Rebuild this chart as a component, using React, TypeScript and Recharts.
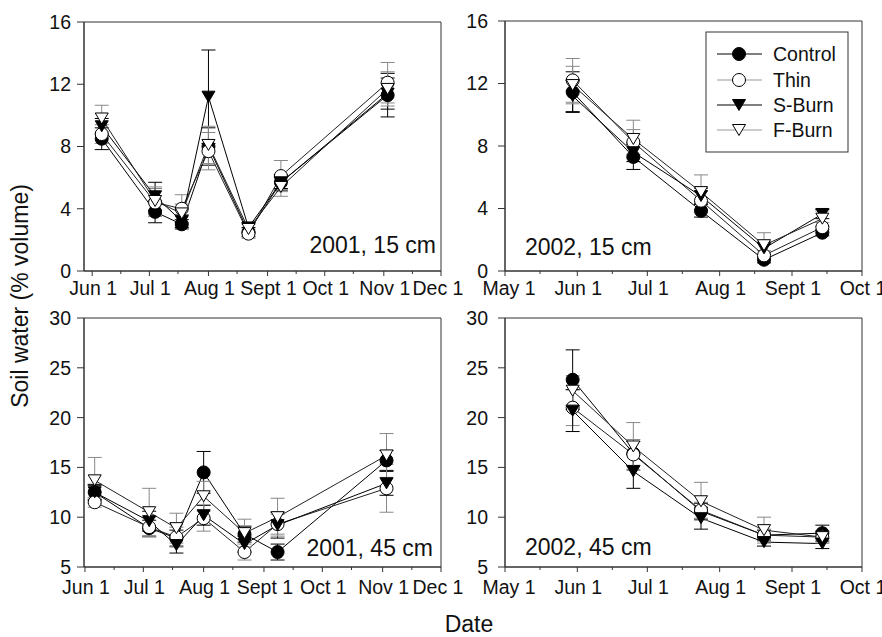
import { LineChart, Line, XAxis, YAxis, ErrorBar, ReferenceArea } from "recharts";

const FONT = "'Liberation Sans', Arial, Helvetica, sans-serif";

// day-of-year of each sampling date
const days2001 = [157, 185, 199, 213, 234, 251, 307];
const days2002 = [150, 176, 205, 232, 257];

// x-axis ticks (day of year) and their labels
const ticks2001 = [152, 182, 213, 244, 274, 305, 335];
const tickLabels2001 = ["Jun 1", "Jul 1", "Aug 1", "Sept 1", "Oct 1", "Nov 1", "Dec 1"];
const minor2001 = [167, 197, 228, 259, 289, 320];
const ticks2002 = [121, 152, 182, 213, 244, 274];
const tickLabels2002 = ["May 1", "Jun 1", "Jul 1", "Aug 1", "Sept 1", "Oct 1"];
const minor2002 = [136, 167, 197, 228, 259];

const yTicks15 = [0, 4, 8, 12, 16];
const yTicks45 = [5, 10, 15, 20, 25, 30];

// 2001, 15 cm
const control01_15 = [8.5, 3.8, 3.0, 8.0, 2.5, 5.7, 11.3];
const thin01_15 = [8.8, 4.4, 4.0, 7.7, 2.4, 6.1, 12.1];
const sburn01_15 = [9.3, 4.8, 3.2, 11.2, 2.8, 5.7, 11.4];
const fburn01_15 = [9.8, 4.5, 3.7, 8.1, 2.7, 5.4, 11.7];
const controlErr01_15 = [0.7, 0.7, 0.3, 1.2, 0.3, 0.4, 1.4];
const thinErr01_15 = [0.6, 0.9, 0.9, 1.2, 0.3, 1.0, 1.3];
const sburnErr01_15 = [0.5, 0.9, 0.4, 3.0, 0.3, 0.5, 1.0];
const fburnErr01_15 = [0.85, 0.9, 0.6, 1.2, 0.3, 0.6, 1.1];

// 2002, 15 cm
const control02_15 = [11.45, 7.3, 3.85, 0.72, 2.45];
const thin02_15 = [12.2, 8.25, 4.5, 1.0, 2.8];
const sburn02_15 = [11.2, 7.6, 4.8, 1.45, 3.65];
const fburn02_15 = [11.9, 8.45, 5.05, 1.65, 3.35];
const controlErr02_15 = [1.3, 0.8, 0.4, 0.2, 0.2];
const thinErr02_15 = [1.4, 0.8, 0.6, 0.3, 0.3];
const sburnErr02_15 = [1.0, 0.6, 0.5, 0.4, 0.3];
const fburnErr02_15 = [1.2, 1.2, 1.1, 0.8, 0.5];

// 2001, 45 cm
const control01_45 = [12.5, 8.9, 7.9, 14.5, 8.3, 6.5, 15.7];
const thin01_45 = [11.5, 9.0, 8.0, 9.9, 6.5, 9.3, 12.9];
const sburn01_45 = [12.5, 9.6, 7.2, 10.2, 7.3, 9.2, 13.4];
const fburn01_45 = [13.7, 10.5, 8.9, 12.1, 8.4, 10.0, 16.2];
const controlErr01_45 = [0.8, 0.8, 0.8, 2.1, 0.8, 0.8, 1.0];
const thinErr01_45 = [0.5, 1.0, 1.0, 1.3, 0.8, 1.0, 2.4];
const sburnErr01_45 = [0.7, 1.0, 0.8, 1.0, 0.8, 1.3, 1.2];
const fburnErr01_45 = [2.3, 2.4, 1.5, 1.5, 1.4, 1.9, 2.2];

// 2002, 45 cm
const control02_45 = [23.8, 16.4, 10.6, 8.2, 8.4];
const thin02_45 = [21.0, 16.3, 10.7, 8.2, 8.0];
const sburn02_45 = [20.7, 14.6, 9.9, 7.5, 7.35];
const fburn02_45 = [22.7, 17.1, 11.6, 8.7, 8.0];
const controlErr02_45 = [3.0, 1.2, 0.8, 0.5, 0.8];
const thinErr02_45 = [1.8, 1.5, 0.8, 0.6, 0.6];
const sburnErr02_45 = [2.1, 1.7, 1.1, 0.4, 0.5];
const fburnErr02_45 = [1.5, 2.4, 1.9, 1.3, 0.6];

const series = [
  { key: "control", name: "Control", shape: "circle", filled: true, line: "#000", err: "#000", legendLine: "#000" },
  { key: "thin", name: "Thin", shape: "circle", filled: false, line: "#222", err: "#888", legendLine: "#999" },
  { key: "sburn", name: "S-Burn", shape: "tri", filled: true, line: "#000", err: "#000", legendLine: "#000" },
  { key: "fburn", name: "F-Burn", shape: "tri", filled: false, line: "#222", err: "#888", legendLine: "#999" },
];

function buildRows(days: number[], vals: number[][], errs: number[][]) {
  return days.map((day, i) => {
    const row: any = { day };
    series.forEach((s, j) => {
      row[s.key] = vals[j][i];
      row[s.key + "Err"] = errs[j][i];
    });
    return row;
  });
}

function Marker({ cx, cy, shape, filled }: any) {
  if (cx == null || cy == null) return null;
  const fill = filled ? "#000" : "#fff";
  if (shape === "circle") {
    return <circle cx={cx} cy={cy} r={6.5} fill={fill} stroke="#000" strokeWidth={1} />;
  }
  return (
    <polygon
      points={`${cx - 6.5},${cy - 5.5} ${cx + 6.5},${cy - 5.5} ${cx},${cy + 5.5}`}
      fill={fill}
      stroke="#000"
      strokeWidth={1}
    />
  );
}

function DateTick({ x, y, payload, labelMap, labelDy, edgeShift }: any) {
  const label = labelMap[payload.value];
  const shift = edgeShift[payload.value] ?? 1;
  return (
    <g>
      <line x1={x} x2={x} y1={y} y2={y + (label ? 5 : 3)} stroke="#333" strokeWidth={1} />
      {label && (
        <text x={x + shift} y={y + labelDy} textAnchor="middle" fontSize={19.5} fontFamily={FONT} fill="#111">
          {label}
        </text>
      )}
    </g>
  );
}

interface PanelProps {
  left: number;
  top: number;
  rows: any[];
  xDomain: [number, number];
  major: number[];
  majorLabels: string[];
  minor: number[];
  yDomain: [number, number];
  yTicks: number[];
  yWidth: number;
  yMargin: number;
  marginTop: number;
  marginRight: number;
  xHeight: number;
  labelDy: number;
}

function Panel(p: PanelProps) {
  const labelMap: Record<number, string> = {};
  p.major.forEach((d, i) => (labelMap[d] = p.majorLabels[i]));
  const allTicks = [...p.major, ...p.minor].sort((a, b) => a - b);
  // nudge the labels next to the gap between the two columns apart
  const edgeShift: Record<number, number> =
    p.left === 0 ? { [p.major[p.major.length - 1]]: -3 } : { [p.major[0]]: 4 };
  return (
    <div style={{ position: "absolute", left: p.left, top: p.top }}>
      <LineChart
        width={p.left === 0 ? 460 : 422}
        height={300}
        data={p.rows}
        margin={{ top: p.marginTop, right: p.marginRight, bottom: 0, left: 0 }}
      >
        <XAxis
          dataKey="day"
          type="number"
          domain={p.xDomain}
          ticks={allTicks}
          interval={0}
          allowDataOverflow
          height={p.xHeight}
          tickSize={0}
          tickMargin={0}
          tickLine={false}
          axisLine={{ stroke: "#333" }}
          tick={<DateTick labelMap={labelMap} labelDy={p.labelDy} edgeShift={edgeShift} />}
        />
        <YAxis
          type="number"
          domain={p.yDomain}
          ticks={p.yTicks}
          interval={0}
          allowDataOverflow
          width={p.yWidth}
          tickSize={7}
          tickMargin={p.yMargin}
          axisLine={{ stroke: "#333" }}
          tickLine={{ stroke: "#333" }}
          tick={{ fontSize: 19.5, fill: "#111", fontFamily: FONT }}
        />
        <ReferenceArea
          x1={p.xDomain[0]}
          x2={p.xDomain[1]}
          y1={p.yDomain[0]}
          y2={p.yDomain[1]}
          fill="none"
          stroke="#333"
          strokeWidth={1}
          ifOverflow="extendDomain"
        />
        {series.map((s) => (
          <Line
            key={s.key}
            dataKey={s.key}
            name={s.name}
            stroke={s.line}
            strokeWidth={1}
            isAnimationActive={false}
            dot={(d: any) => (
              <Marker key={`${s.key}-${d.index}`} cx={d.cx} cy={d.cy} shape={s.shape} filled={s.filled} />
            )}
            activeDot={false}
          >
            <ErrorBar dataKey={s.key + "Err"} direction="y" width={7} stroke={s.err} strokeWidth={1} />
          </Line>
        ))}
      </LineChart>
    </div>
  );
}

function LegendBox() {
  const rowsY = [54, 80, 105, 130];
  return (
    <g>
      <rect x={706} y={32} width={142} height={120} fill="#fff" stroke="#333" strokeWidth={1} />
      {series.map((s, i) => (
        <g key={s.key}>
          <line x1={717} x2={762} y1={rowsY[i]} y2={rowsY[i]} stroke={s.legendLine} strokeWidth={1} />
          <Marker cx={739} cy={rowsY[i]} shape={s.shape} filled={s.filled} />
          <text x={773} y={rowsY[i] + 7} fontSize={19.5} fontFamily={FONT} fill="#111">
            {s.name}
          </text>
        </g>
      ))}
    </g>
  );
}

export default function App() {
  const rows01_15 = buildRows(
    days2001,
    [control01_15, thin01_15, sburn01_15, fburn01_15],
    [controlErr01_15, thinErr01_15, sburnErr01_15, fburnErr01_15]
  );
  const rows02_15 = buildRows(
    days2002,
    [control02_15, thin02_15, sburn02_15, fburn02_15],
    [controlErr02_15, thinErr02_15, sburnErr02_15, fburnErr02_15]
  );
  const rows01_45 = buildRows(
    days2001,
    [control01_45, thin01_45, sburn01_45, fburn01_45],
    [controlErr01_45, thinErr01_45, sburnErr01_45, fburnErr01_45]
  );
  const rows02_45 = buildRows(
    days2002,
    [control02_45, thin02_45, sburn02_45, fburn02_45],
    [controlErr02_45, thinErr02_45, sburnErr02_45, fburnErr02_45]
  );

  return (
    <div style={{ position: "absolute", left: 0, top: 0, width: 882, height: 637, background: "#fff", fontFamily: FONT, overflow: "hidden" }}>
      <style>{`.recharts-surface { overflow: visible; }`}</style>
      <Panel left={0} top={0} rows={rows01_15} xDomain={[147.7, 335]} major={ticks2001} majorLabels={tickLabels2001}
        minor={minor2001} yDomain={[0, 16]} yTicks={yTicks15} yWidth={84} yMargin={6}
        marginTop={22} marginRight={19} xHeight={29} labelDy={24} />
      <Panel left={460} top={0} rows={rows02_15} xDomain={[121, 274]} major={ticks2002} majorLabels={tickLabels2002}
        minor={minor2002} yDomain={[0, 16]} yTicks={yTicks15} yWidth={45} yMargin={10}
        marginTop={21} marginRight={20} xHeight={29} labelDy={24} />
      <Panel left={0} top={300} rows={rows01_45} xDomain={[151.5, 335]} major={ticks2001} majorLabels={tickLabels2001}
        minor={minor2001} yDomain={[5, 30]} yTicks={yTicks45} yWidth={84} yMargin={6}
        marginTop={18} marginRight={19} xHeight={33} labelDy={27} />
      <Panel left={460} top={300} rows={rows02_45} xDomain={[121, 274]} major={ticks2002} majorLabels={tickLabels2002}
        minor={minor2002} yDomain={[5, 30]} yTicks={yTicks45} yWidth={45} yMargin={10}
        marginTop={18} marginRight={20} xHeight={33} labelDy={27} />
      <svg width={882} height={637} style={{ position: "absolute", left: 0, top: 0, pointerEvents: "none" }}>
        <g fontFamily={FONT} fontSize={23} fill="#111">
          <text x={436} y={253} textAnchor="end">2001, 15 cm</text>
          <text x={525} y={255}>2002, 15 cm</text>
          <text x={433} y={556} textAnchor="end">2001, 45 cm</text>
          <text x={525} y={555}>2002, 45 cm</text>
        </g>
        <text x={28} y={296} transform="rotate(-90, 28, 296)" textAnchor="middle" fontSize={23} fontFamily={FONT} fill="#111">
          Soil water (% volume)
        </text>
        <text x={469} y={632} textAnchor="middle" fontSize={23} fontFamily={FONT} fill="#111">
          Date
        </text>
        <LegendBox />
      </svg>
    </div>
  );
}
